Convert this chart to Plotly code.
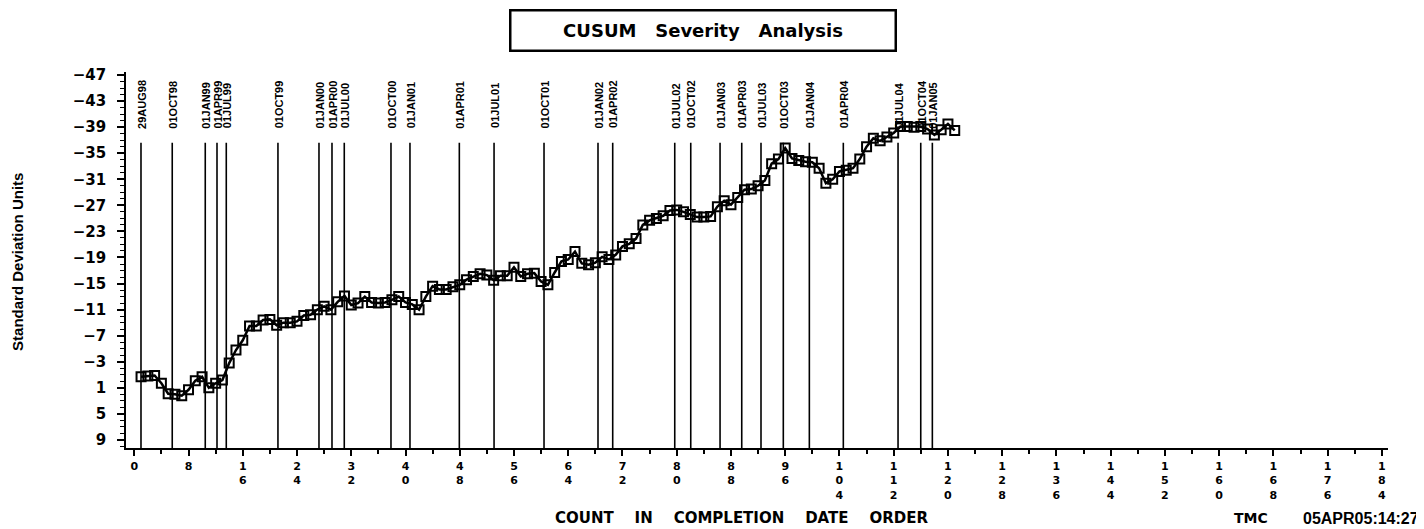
import plotly.graph_objects as go

# ---- data ----
count = list(range(1, 122))
cusum = [-0.7, -0.8, -0.9, 0.3, 1.9, 2.0, 2.2, 1.3, -0.1, -0.7,
         1.0, 0.3, -0.2, -2.8, -4.8, -6.3, -8.5, -8.5, -9.4, -9.5,
         -8.6, -9.0, -9.0, -9.2, -10.1, -10.2, -11.0, -11.5, -11.0, -12.2,
         -13.1, -11.7, -12.0, -13.0, -12.1, -12.0, -12.1, -12.5, -13.0, -12.1,
         -11.8, -11.0, -13.0, -14.6, -14.1, -14.1, -14.5, -14.8, -15.6, -16.1,
         -16.5, -16.3, -15.5, -16.2, -16.2, -17.5, -16.1, -16.5, -16.6, -15.3,
         -14.8, -16.7, -18.4, -18.7, -19.9, -18.1, -17.9, -18.2, -19.1, -18.7,
         -19.4, -20.7, -21.1, -21.9, -24.0, -24.7, -25.0, -25.4, -26.2, -26.3,
         -26.0, -25.6, -25.2, -25.2, -25.3, -26.8, -27.7, -27.1, -28.2, -29.4,
         -29.5, -30.0, -30.8, -33.4, -34.1, -35.8, -34.2, -33.9, -33.7, -33.6,
         -32.7, -30.4, -31.0, -32.2, -32.4, -32.7, -34.1, -36.0, -37.3, -36.9,
         -37.5, -38.1, -39.1, -39.1, -39.0, -39.1, -38.7, -37.8, -38.6, -39.5,
         -38.5]

ref_dates = ["29AUG98", "01OCT98", "01JAN99", "01APR99", "01JUL99", "01OCT99",
             "01JAN00", "01APR00", "01JUL00", "01OCT00", "01JAN01", "01APR01",
             "01JUL01", "01OCT01", "01JAN02", "01APR02", "01JUL02", "01OCT02",
             "01JAN03", "01APR03", "01JUL03", "01OCT03", "01JAN04", "01APR04",
             "01JUL04", "01OCT04", "01JAN05"]
ref_pos = [0.99, 5.60, 10.47, 12.20, 13.57, 21.19, 27.24, 29.16, 30.97, 37.86,
           40.66, 47.94, 53.06, 60.43, 68.39, 70.56, 79.71, 82.07, 86.39, 89.59,
           92.43, 95.72, 99.56, 104.57, 112.64, 115.99, 117.70]
ref_top = -36.6
ref_bottom = 10.3
label_base = -38.5

x_ticks = list(range(0, 185, 8))
y_ticks = list(range(-47, 10, 4))

title_text = "CUSUM Severity Analysis"
x_title = "COUNT IN COMPLETION DATE ORDER"
y_title = "Standard Deviation Units"
stamp_a = "TMC"
stamp_b = "05APR05:14:27"

# ---- figure ----
fig = go.Figure()

rx, ry = [], []
for p in ref_pos:
    rx += [p, p, None]
    ry += [ref_bottom, ref_top, None]
fig.add_trace(go.Scatter(x=rx, y=ry, mode="lines",
                         line=dict(color="black", width=1.6),
                         hoverinfo="skip", showlegend=False))

fig.add_trace(go.Scatter(x=count, y=cusum, mode="lines+markers",
                         line=dict(color="black", width=2.5),
                         marker=dict(symbol="square-open", size=9,
                                     color="black", line=dict(width=2, color="black")),
                         showlegend=False))

sans = "Liberation Sans, Arial, sans-serif"
wide = "DejaVu Sans, Verdana, sans-serif"

for d, p in zip(ref_dates, ref_pos):
    fig.add_annotation(x=p, y=label_base, xref="x", yref="y", text=d,
                       textangle=-90, showarrow=False, xanchor="center",
                       yanchor="bottom", xshift=1,
                       font=dict(family=sans, size=11, color="black", weight="bold"))

def fmt_y(v):
    return ("\u2212" + str(-v)) if v < 0 else str(v)

fig.update_xaxes(range=[-1.22, 184.9], showgrid=False, zeroline=False,
                 showline=True, linecolor="black", linewidth=1.5,
                 tickmode="array", tickvals=x_ticks,
                 ticktext=["<br>".join(str(v)) for v in x_ticks],
                 ticks="outside", ticklen=6, tickwidth=1.5, tickcolor="black",
                 minor=dict(tickmode="linear", tick0=0, dtick=4, ticks="outside",
                            ticklen=4, tickwidth=1.5, tickcolor="black"),
                 tickfont=dict(family=wide, size=11, color="black", weight="bold"),
                 ticklabelstandoff=1)
fig.update_yaxes(range=[10.23, -47.46], showgrid=False, zeroline=False,
                 showline=True, linecolor="black", linewidth=1.5,
                 tickmode="array", tickvals=y_ticks,
                 ticktext=[fmt_y(v) for v in y_ticks],
                 ticks="outside", ticklen=7, tickwidth=1.5, tickcolor="black",
                 minor=dict(tickmode="linear", tick0=-47, dtick=1, ticks="outside",
                            ticklen=4, tickwidth=1.2, tickcolor="black"),
                 tickfont=dict(family=wide, size=15, color="black", weight="bold"),
                 ticklabelstandoff=8)

sp3 = "\u00a0\u00a0\u00a0"
sp4 = "\u00a0\u00a0\u00a0\u00a0"
# title box
fig.add_annotation(x=0.4572, y=1.1117, xref="paper", yref="paper",
                   text=title_text.replace(" ", sp3),
                   showarrow=False, xanchor="center", yanchor="middle",
                   width=381, height=36, bordercolor="black", borderwidth=2.5,
                   bgcolor="white",
                   font=dict(family=wide, size=18, color="black", weight="bold"))
# axis titles
yb = (448 - 518) / 376
fig.add_annotation(x=0.488, y=yb, xref="paper", yref="paper",
                   text=x_title.replace(" ", sp4), showarrow=False,
                   xanchor="center", yanchor="middle",
                   font=dict(family=wide, size=15, color="black", weight="bold"))
fig.add_annotation(x=-0.0856, y=0.4947, xref="paper", yref="paper",
                   text=y_title, showarrow=False, textangle=-90,
                   xanchor="center", yanchor="middle",
                   font=dict(family=sans, size=15, color="black", weight="bold"))
fig.add_annotation(x=(1251 - 126) / 1262, y=yb, xref="paper", yref="paper",
                   text=stamp_a, showarrow=False, xanchor="center", yanchor="middle",
                   font=dict(family=wide, size=14, color="black", weight="bold"))
fig.add_annotation(x=(1421 - 126) / 1262, y=yb, xref="paper", yref="paper",
                   text=stamp_b, showarrow=False, xanchor="right", yanchor="middle",
                   font=dict(family=sans, size=16, color="black", weight="bold"))

# page body has an 8px default margin: shrink figure so plot area lands in place
fig.update_layout(width=1416, height=521,
                  margin=dict(l=118, r=36, t=64, b=81),
                  paper_bgcolor="white", plot_bgcolor="white",
                  showlegend=False)

fig.write_html("out.html")
